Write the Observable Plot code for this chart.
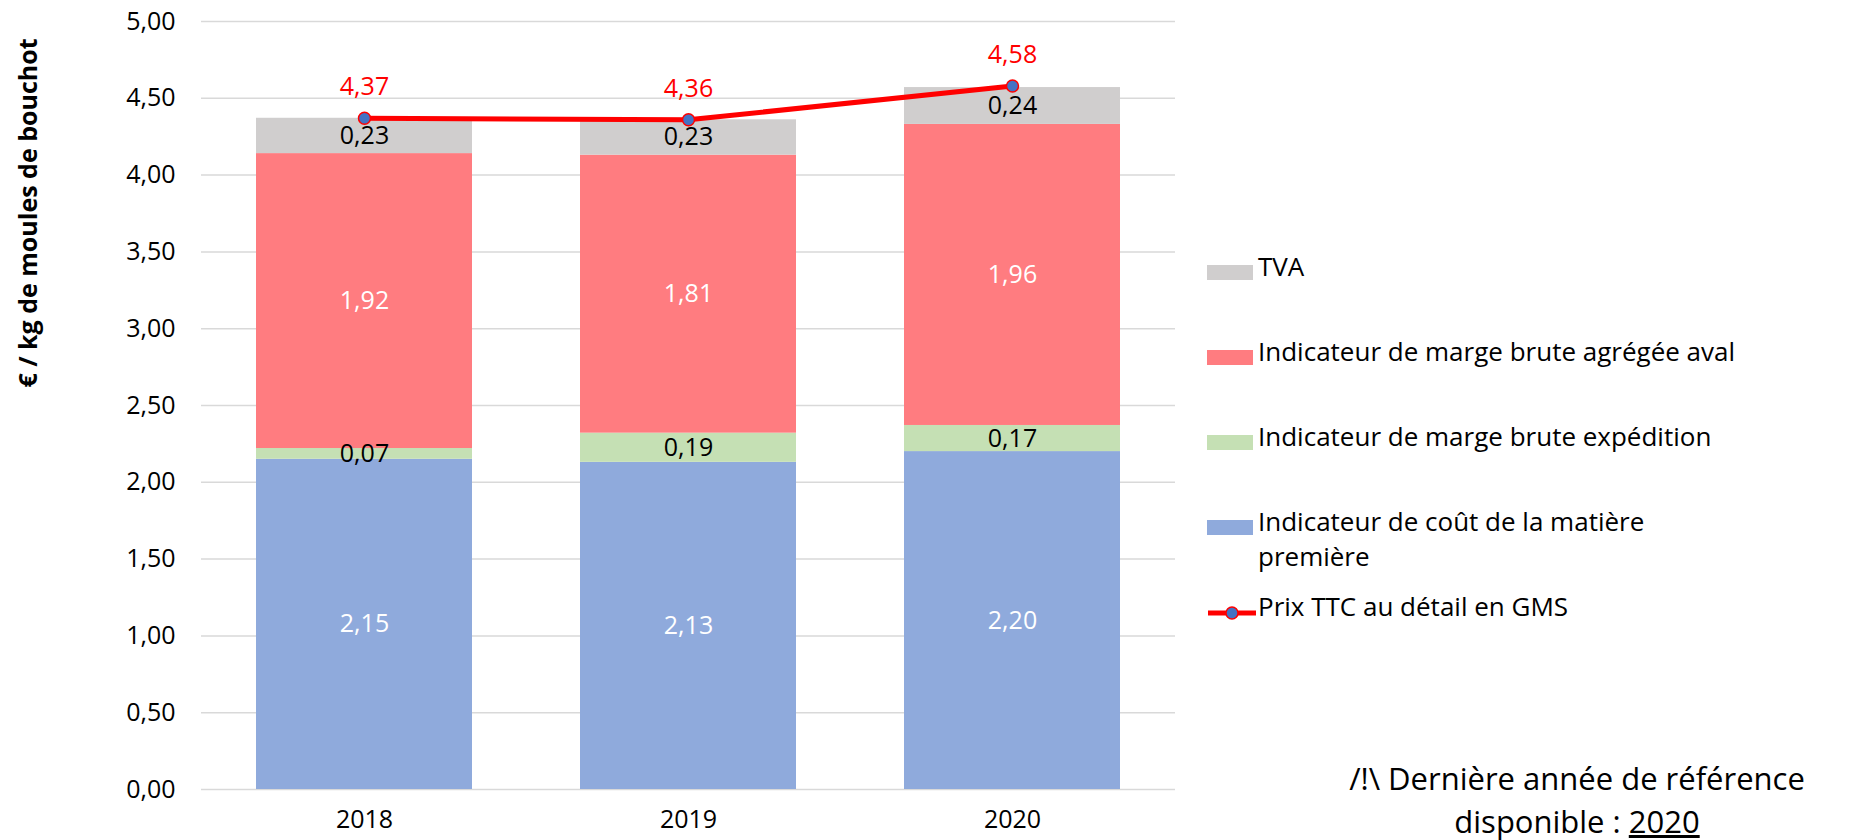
<!DOCTYPE html>
<html>
<head>
<meta charset="utf-8">
<script src="https://cdn.jsdelivr.net/npm/d3@7"></script>
<script src="https://cdn.jsdelivr.net/npm/@observablehq/plot@0.6"></script>
<style>
  body { margin: 0; background: #fff; font-family: "Open Sans", Lato, sans-serif; }
  #wrap { position: relative; width: 1852px; height: 840px; }
  #ylabel { position: absolute; left: 27px; top: 213px; transform: translate(-50%, -50%) rotate(-90deg); white-space: nowrap; font-weight: bold; font-size: 25px; color: #000; }
  #legend { position: absolute; left: 1207px; top: 0; font-size: 26px; color: #000; }
  .item { position: absolute; left: 0; display: flex; align-items: flex-start; white-space: nowrap; }
  .sw { width: 46px; height: 15px; margin-right: 5px; margin-top: 7px; flex: none; }
  .txt { line-height: 35px; margin-top: -9px; }
  .note { position: absolute; left: 1577px; transform: translate(-50%, -50%); text-align: center; font-size: 31px; line-height: 42px; white-space: nowrap; color: #000; }
</style>
</head>
<body>
<div id="wrap">
  <div id="chart"></div>
  <div id="ylabel">€ / kg de moules de bouchot</div>
  <div id="legend"></div>
  <div class="note" style="top: 778px;">/!\ Dernière année de référence</div>
  <div class="note" style="top: 821px;">disponible : <u>2020</u></div>
</div>
<script>
const years = ["2018", "2019", "2020"];
const series = [
  "Indicateur de coût de la matière première",
  "Indicateur de marge brute expédition",
  "Indicateur de marge brute agrégée aval",
  "TVA"
];
const matiere = [2.15, 2.13, 2.20];
const expedition = [0.07, 0.19, 0.17];
const aval = [1.92, 1.81, 1.96];
const tva = [0.23, 0.23, 0.24];
const prix = [4.37, 4.36, 4.58];
const prixLabel = "Prix TTC au détail en GMS";
const colors = ["#8FAADC", "#C5E0B4", "#FF7C80", "#D0CECE"];
const labelColors = ["#ffffff", "#000000", "#ffffff", "#000000"];
const yTicks = [0, 0.5, 1, 1.5, 2, 2.5, 3, 3.5, 4, 4.5, 5];

const valuesBySeries = [matiere, expedition, aval, tva];
const rows = [];
series.forEach((s, i) => years.forEach((y, j) => rows.push({year: y, series: s, value: valuesBySeries[i][j], idx: i})));
const prixRows = years.map((y, j) => ({year: y, value: prix[j]}));

const fr = d3.formatLocale({decimal: ",", thousands: " ", grouping: [3], currency: ["", " €"]});
const f2 = fr.format(".2f");

const font = "'Open Sans', Lato, sans-serif";

const chart = Plot.plot({
  width: 1852,
  height: 840,
  marginLeft: 201,
  marginRight: 677,
  marginTop: 21,
  marginBottom: 51,
  style: {fontFamily: font, fontSize: "25px", color: "#000", background: "transparent"},
  x: {type: "band", domain: years, paddingInner: 0.333, paddingOuter: 0.1667, label: null, tickSize: 0, tickPadding: 21},
  y: {domain: [0, 5], ticks: yTicks, tickFormat: f2, label: null, tickSize: 0, tickPadding: 26},
  color: {domain: series, range: colors},
  marks: [
    Plot.ruleY(yTicks, {stroke: "#d9d9d9", strokeWidth: 1.5}),
    Plot.barY(rows, Plot.stackY({x: "year", y: "value", fill: "series", order: series})),
    Plot.text(rows, Plot.stackY({x: "year", y: "value", z: "series", order: series, text: d => f2(d.value), fill: d => labelColors[d.idx], fontSize: 25})),
    Plot.line(prixRows, {x: "year", y: "value", stroke: "#FF0000", strokeWidth: 5}),
    Plot.dot(prixRows, {x: "year", y: "value", r: 6, fill: "#4472C4", stroke: "#FF0000", strokeWidth: 1.5}),
    Plot.text(prixRows, {x: "year", y: "value", text: d => f2(d.value), fill: "#FF0000", dy: -31, fontSize: 25})
  ]
});
document.getElementById("chart").appendChild(chart);

// Legend (HTML), top-to-bottom: TVA, aval, expédition, matière, prix
const legend = document.getElementById("legend");
const legendTops = [258, 343, 428, 513, 598];
const legendOrder = [3, 2, 1, 0];
legendOrder.forEach((si, k) => {
  const it = document.createElement("div");
  it.className = "item";
  it.style.top = legendTops[k] + "px";
  const sw = document.createElement("div");
  sw.className = "sw";
  sw.style.background = colors[si];
  const tx = document.createElement("div");
  tx.className = "txt";
  let label = series[si];
  if (si === 0) { label = "Indicateur de coût de la matière<br>première"; }
  tx.innerHTML = label;
  it.appendChild(sw); it.appendChild(tx);
  legend.appendChild(it);
});
{
  const it = document.createElement("div");
  it.className = "item";
  it.style.top = legendTops[4] + "px";
  const svgNS = "http://www.w3.org/2000/svg";
  const s = document.createElementNS(svgNS, "svg");
  s.setAttribute("width", "51"); s.setAttribute("height", "30");
  s.style.flex = "none";
  const ln = document.createElementNS(svgNS, "line");
  ln.setAttribute("x1", "1"); ln.setAttribute("x2", "49"); ln.setAttribute("y1", "15"); ln.setAttribute("y2", "15");
  ln.setAttribute("stroke", "#FF0000"); ln.setAttribute("stroke-width", "5");
  const c = document.createElementNS(svgNS, "circle");
  c.setAttribute("cx", "25"); c.setAttribute("cy", "15"); c.setAttribute("r", "6");
  c.setAttribute("fill", "#4472C4"); c.setAttribute("stroke", "#FF0000"); c.setAttribute("stroke-width", "1.5");
  s.appendChild(ln); s.appendChild(c);
  const tx = document.createElement("div");
  tx.className = "txt";
  tx.textContent = prixLabel;
  it.appendChild(s); it.appendChild(tx);
  legend.appendChild(it);
}
</script>
</body>
</html>
